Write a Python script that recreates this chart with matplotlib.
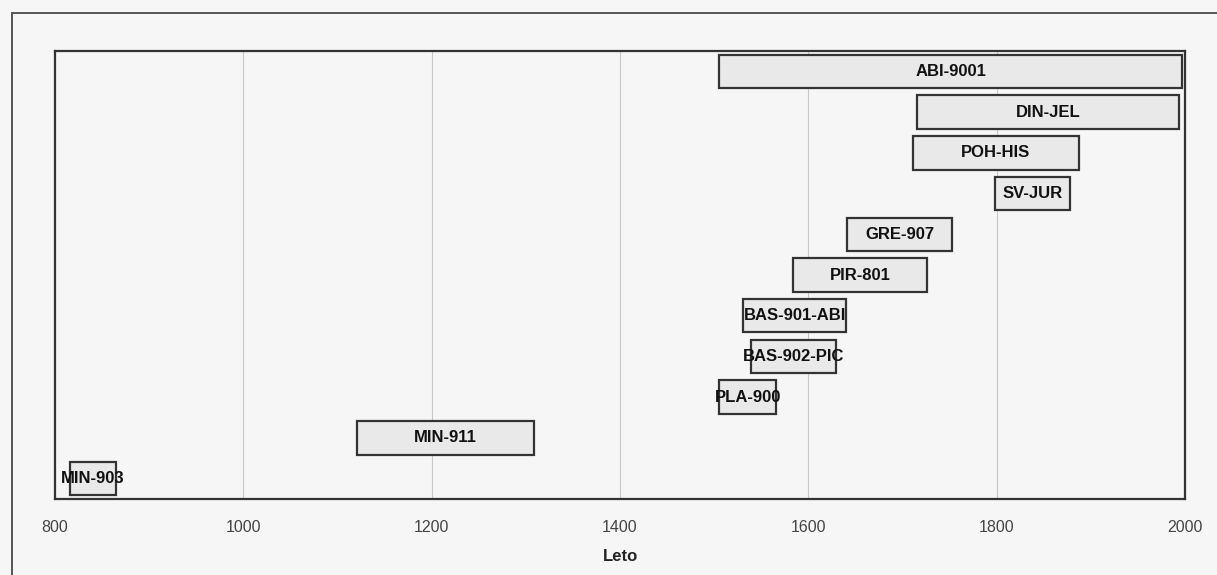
import matplotlib.pyplot as plt
from matplotlib.lines import Line2D

# bars from top to bottom
labels = ['ABI-9001', 'DIN-JEL', 'POH-HIS', 'SV-JUR', 'GRE-907', 'PIR-801',
          'BAS-901-ABI', 'BAS-902-PIC', 'PLA-900', 'MIN-911', 'MIN-903']
start_year = [1505, 1715, 1711, 1798, 1641, 1584, 1531, 1539, 1505, 1121, 816]
end_year = [1997, 1994, 1887, 1878, 1753, 1726, 1640, 1629, 1566, 1309, 865]
x_ticks = [800, 1000, 1200, 1400, 1600, 1800, 2000]

plt.rcParams['font.family'] = ['Liberation Sans', 'DejaVu Sans']

fig = plt.figure(figsize=(12.17, 5.75), dpi=100)
fig.patch.set_facecolor('#f6f6f6')
ax = fig.add_axes([55 / 1217, 1 - 499 / 575, 1130 / 1217, 448 / 575])
ax.set_facecolor('#f6f6f6')

ypos = list(range(len(labels)))[::-1]
widths = [e - s for s, e in zip(start_year, end_year)]
ax.barh(ypos, widths, left=start_year, height=0.82,
        color='#e9e9e9', edgecolor='#333333', linewidth=1.6, zorder=3)

for y, s, e, lab in zip(ypos, start_year, end_year, labels):
    ax.text((s + e) / 2, y, lab, ha='center', va='center',
            fontsize=12, fontweight='bold', color='#111111', zorder=4)

ax.set_xlim(800, 2000)
ax.set_ylim(-0.5, len(labels) - 0.5)
ax.set_xticks(x_ticks)
ax.set_xticklabels([str(t) for t in x_ticks], fontsize=11.5, color='#444444')
ax.tick_params(axis='x', length=0, pad=15)
ax.set_yticks([])
ax.grid(axis='x', color='#c8c8c8', linewidth=0.8, zorder=0)
for sp in ax.spines.values():
    sp.set_color('#333333')
    sp.set_linewidth(1.6)

ax.set_xlabel('Leto', fontsize=12, fontweight='bold', color='#222222',
              labelpad=10)

# page frame from the scan
fig.add_artist(Line2D([12 / 1217, 12 / 1217], [0, 1 - 13 / 575],
                      color='#555555', linewidth=1.4))
fig.add_artist(Line2D([12 / 1217, 1], [1 - 13 / 575, 1 - 13 / 575],
                      color='#555555', linewidth=1.4))

fig.savefig('out.png', dpi=100, facecolor=fig.get_facecolor())
